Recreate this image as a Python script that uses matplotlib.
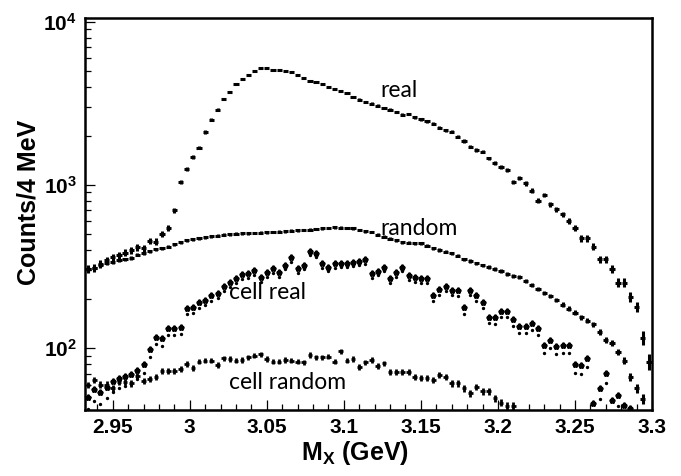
import numpy as np
import matplotlib
matplotlib.use("Agg")
import matplotlib.pyplot as plt
from matplotlib.ticker import MultipleLocator, LogLocator, NullFormatter, FuncFormatter

plt.rcParams['font.family'] = ['Liberation Sans', 'DejaVu Sans']
plt.rcParams['font.weight'] = 'bold'
plt.rcParams['mathtext.fontset'] = 'custom'
plt.rcParams['mathtext.rm'] = 'Liberation Sans:bold'
plt.rcParams['mathtext.bf'] = 'Liberation Sans:bold'
plt.rcParams['mathtext.it'] = 'Liberation Sans:bold'
plt.rcParams['mathtext.default'] = 'rm'

nan = np.nan

# 4 MeV bins from 2.932 to 3.300 GeV
bin_width = 0.004
n_bins = 92
mx = 2.932 + bin_width * (np.arange(n_bins) + 0.5)

real = [305, 310, 327, 345, 360, 372, 385, 400, 415, 410,
        455, 450, 500, 545, 700, 1043, 1248, 1484, 1692, 2112,
        2512, 2893, 3363, 3696, 4137, 4457, 4696, 5012, 5183, 5206,
        5058, 5040, 5000, 4950, 4700, 4500, 4350, 4270, 4150, 4000,
        3880, 3760, 3650, 3450, 3330, 3220, 3150, 3060, 2970, 2900,
        2800, 2690, 2720, 2600, 2520, 2450, 2370, 2250, 2170, 2120,
        1980, 1860, 1716, 1638, 1600, 1456, 1358, 1294, 1236, 1047,
        1099, 1024, 923, 802, 869, 762, 710, 662, 604, 543,
        472, 472, 419, 351, 351, 305, 252, 252, 206, 180,
        116, 83]

random = [305, 312, 325, 333, 338, 345, 350, 358, 375, 384,
          392, 405, 411, 420, 435, 445, 458, 466, 473, 480,
          486, 490, 495, 500, 502, 505, 507, 508, 510, 512,
          515, 518, 520, 524, 528, 530, 534, 538, 542, 546,
          550, 548, 545, 543, 530, 520, 515, 495, 482, 470,
          458, 445, 443, 441, 440, 425, 410, 400, 390, 382,
          370, 350, 342, 331, 322, 314, 306, 298, 286, 278,
          272, 258, 244, 230, 219, 209, 198, 185, 175, 165,
          155, 148, 140, 126, 112, 108, 95, 84, 67, 57,
          49, nan]

cell_real = [50, 56, 54, 58, 63, 66, 68, 70, 74, 80,
             99, 118, 115, 133, 134, 136, 176, 180, 193, 199,
             212, 219, 240, 255, 268, 285, 290, 300, 274, 294,
             309, 294, 324, 360, 309, 324, 395, 382, 332, 316,
             332, 334, 334, 339, 342, 350, 290, 299, 316, 268,
             294, 316, 281, 272, 268, 268, 212, 230, 241, 228,
             226, 178, 228, 212, 193, 156, 155, 170, 170, 151,
             137, 137, 143, 133, 105, 112, 103, 105, 105, 80,
             79, 87, 46, 57, 71, 48, 52, 45, 43, nan,
             nan, nan]

cell_random = [59.6, 64, 60, 60, 57, 62, 62.5, 61, 68, 63,
               65, 67, 73, 73, 73, 75, 80, 76, 83, 84,
               84, 79, 87, 86, 84, 85, 88, 90, 92, 86,
               83, 83, 85, 84, 83, 82, 91, 88, 88, 89,
               83, 96, 84, 86, 77, 82, 85, 78, 81, 72,
               72, 72, 72, 67, 65.5, 65.5, 64, 68.6, 67, 61,
               61, 57, 53, 58, 54.7, 54.7, 49.4, 46.5, 44.5, 44.5,
               nan, nan, nan, nan, nan, nan, nan, nan, nan, nan,
               nan, nan, nan, nan, nan, nan, nan, nan, nan, nan,
               nan, nan]

real = np.array(real, dtype=float)
random = np.array(random, dtype=float)
cell_real = np.array(cell_real, dtype=float)
cell_random = np.array(cell_random, dtype=float)

fig = plt.figure(figsize=(6.81, 4.76), dpi=100)
ax = fig.add_axes([85 / 681, 66 / 476, 567 / 681, 392 / 476])

# histograms with statistical errors
ax.errorbar(mx, real, xerr=0.0017, yerr=np.sqrt(real), fmt='none',
            ecolor='black', elinewidth=2.2, capsize=0)
ax.errorbar(mx, random, xerr=0.0017, yerr=0.45 * np.sqrt(random), fmt='none',
            ecolor='black', elinewidth=2.2, capsize=0)
ax.errorbar(mx, cell_random, xerr=0.0015, yerr=0.35 * np.sqrt(cell_random),
            fmt='none', ecolor='black', elinewidth=2.0, capsize=0)

# cell real: small markers with the lower error end as a dot
ax.plot(mx, cell_real, linestyle='none', marker=r'$\clubsuit$',
        markersize=3.6, color='black')
ax.plot(mx, cell_real - 1.1 * np.sqrt(cell_real), linestyle='none',
        marker='o', markersize=1.4, color='black')

ax.set_yscale('log')
ax.set_xlim(2.932, 3.3)
ax.set_ylim(41.9, 10540)

ax.xaxis.set_major_locator(MultipleLocator(0.05))
ax.xaxis.set_minor_locator(MultipleLocator(0.01))
ax.xaxis.set_major_formatter(FuncFormatter(lambda v, p: f'{v:g}'))
ax.yaxis.set_major_locator(LogLocator(base=10))
ax.yaxis.set_minor_locator(LogLocator(base=10, subs=np.arange(2, 10)))
ax.yaxis.set_minor_formatter(NullFormatter())

ax.tick_params(which='both', direction='in', top=False, right=False,
               width=0.9, labelsize=15)
ax.tick_params(which='major', length=7.5, pad=6)
ax.tick_params(which='minor', length=4)
for s in ax.spines.values():
    s.set_linewidth(1.8)

ax.set_xlabel(r'M$_{\mathrm{X}}$ (GeV)', fontsize=18, fontweight='bold')
ax.set_ylabel('Counts/4 MeV', fontsize=18, fontweight='bold')
ax.xaxis.set_label_coords(0.476, -0.075)
ax.yaxis.set_label_coords(-0.078, 0.53)

label_font = dict(family='Lato', fontweight='normal', fontsize=16.5,
                  va='center', ha='left')
ax.text(3.124, 3800, 'real', **label_font)
ax.text(3.124, 540, 'random', **label_font)
ax.text(3.0253, 221, 'cell real', **label_font)
ax.text(3.0253, 62, 'cell random', **label_font)

fig.savefig('out.png', dpi=100)
